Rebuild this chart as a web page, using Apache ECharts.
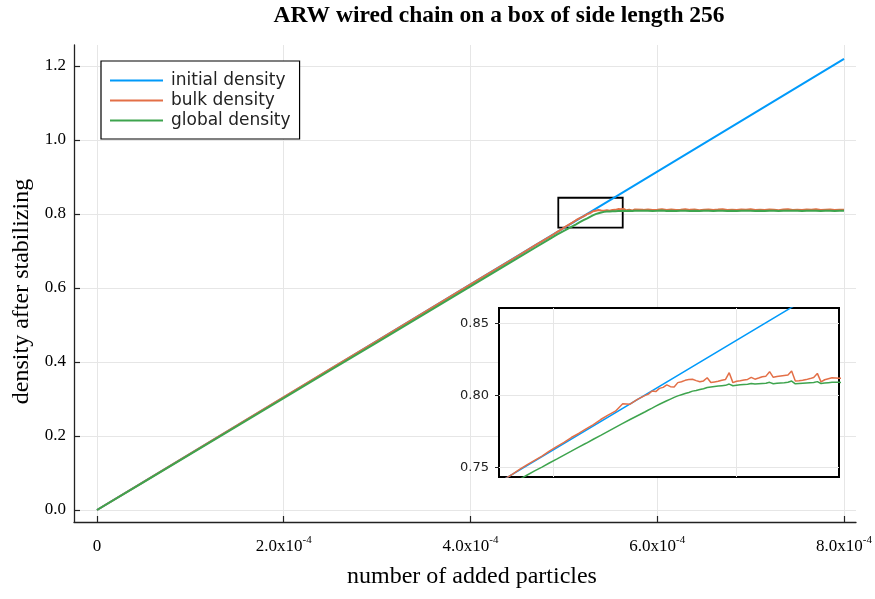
<!DOCTYPE html>
<html><head><meta charset="utf-8">
<script src="https://cdn.jsdelivr.net/npm/echarts@6/dist/echarts.min.js"></script>
<style>html,body{margin:0;padding:0;background:#fff}#c{width:875px;height:599px}</style>
</head><body><div id="c"></div>
<script>
const titleText = 'ARW wired chain on a box of side length 256';
const xAxisName = 'number of added particles';
const yAxisName = 'density after stabilizing';
const seriesNames = ['initial density', 'bulk density', 'global density'];

const initX = [0, 2e-4, 4e-4, 6e-4, 8e-4];
const initY = [0, 0.3048, 0.6096, 0.9144, 1.2192];

const addedX = [
  0, 0.5e-4, 1.0e-4, 1.5e-4, 2.0e-4, 2.5e-4, 3.0e-4, 3.5e-4, 4.0e-4, 4.5e-4, 4.7e-4,
  4.85e-4, 4.87e-4, 4.89e-4, 4.91e-4, 4.93e-4, 4.95e-4, 4.97e-4, 4.99e-4, 5.01e-4, 5.03e-4,
  5.05e-4, 5.07e-4, 5.09e-4, 5.11e-4, 5.13e-4, 5.15e-4, 5.17e-4, 5.19e-4, 5.21e-4, 5.23e-4, 5.25e-4,
  5.26e-4, 5.27e-4, 5.28e-4, 5.29e-4, 5.30e-4, 5.31e-4, 5.32e-4, 5.33e-4, 5.34e-4, 5.35e-4,
  5.36e-4, 5.37e-4, 5.38e-4, 5.39e-4, 5.40e-4, 5.41e-4, 5.42e-4, 5.43e-4, 5.44e-4, 5.45e-4,
  5.46e-4, 5.47e-4, 5.48e-4, 5.49e-4, 5.50e-4, 5.51e-4, 5.52e-4, 5.53e-4, 5.54e-4, 5.55e-4,
  5.56e-4, 5.57e-4, 5.58e-4, 5.59e-4, 5.60e-4, 5.61e-4, 5.62e-4, 5.63e-4, 5.64e-4, 5.65e-4,
  5.66e-4, 5.67e-4, 5.68e-4, 5.69e-4, 5.70e-4, 5.71e-4, 5.72e-4, 5.73e-4, 5.74e-4, 5.75e-4,
  5.76e-4, 5.77e-4, 5.78e-4,
  5.85e-4, 5.90e-4, 5.95e-4, 6.00e-4, 6.05e-4, 6.10e-4, 6.15e-4, 6.20e-4, 6.25e-4, 6.30e-4,
  6.35e-4, 6.40e-4, 6.45e-4, 6.50e-4, 6.55e-4, 6.60e-4, 6.65e-4, 6.70e-4, 6.75e-4, 6.80e-4,
  6.85e-4, 6.90e-4, 6.95e-4, 7.00e-4, 7.05e-4, 7.10e-4, 7.15e-4, 7.20e-4, 7.25e-4, 7.30e-4,
  7.35e-4, 7.40e-4, 7.45e-4, 7.50e-4, 7.55e-4, 7.60e-4, 7.65e-4, 7.70e-4, 7.75e-4, 7.80e-4,
  7.85e-4, 7.90e-4, 7.95e-4, 8.00e-4
];

const bulkY = [
  0, 0.0763, 0.1525, 0.2287, 0.3050, 0.3812, 0.4573, 0.5335, 0.6097, 0.6859, 0.7164,
  0.7388, 0.7421, 0.7453, 0.7487, 0.7519, 0.7549, 0.7578, 0.7612, 0.7644, 0.7673,
  0.7707, 0.7735, 0.7767, 0.7797, 0.7832, 0.7863, 0.7890, 0.7941, 0.7938, 0.7972, 0.7998,
  0.8008, 0.8030, 0.8026, 0.8048, 0.8055, 0.8072, 0.8060, 0.8058, 0.8088, 0.8094,
  0.8104, 0.8109, 0.8111, 0.8102, 0.8094, 0.8100, 0.8122, 0.8089, 0.8093, 0.8097,
  0.8105, 0.8110, 0.8157, 0.8088, 0.8098, 0.8101, 0.8106, 0.8110, 0.8124, 0.8112,
  0.8120, 0.8129, 0.8133, 0.8164, 0.8125, 0.8130, 0.8134, 0.8138, 0.8141, 0.8169,
  0.8099, 0.8101, 0.8104, 0.8109, 0.8116, 0.8124, 0.8152, 0.8093, 0.8108, 0.8115,
  0.8122, 0.8120, 0.8118,
  0.8112, 0.8125, 0.8108, 0.8118, 0.8131, 0.8110, 0.8121, 0.8106, 0.8116, 0.8128,
  0.8112, 0.8119, 0.8104, 0.8117, 0.8124, 0.8109, 0.8120, 0.8132, 0.8111, 0.8115,
  0.8107, 0.8122, 0.8113, 0.8126, 0.8108, 0.8118, 0.8110, 0.8123, 0.8115, 0.8105,
  0.8119, 0.8129, 0.8111, 0.8117, 0.8108, 0.8121, 0.8113, 0.8127, 0.8110, 0.8118,
  0.8124, 0.8109, 0.8116, 0.8112
];

const globalY = [
  0, 0.0756, 0.1511, 0.2267, 0.3022, 0.3778, 0.4533, 0.5289, 0.6044, 0.6800, 0.7102,
  0.7330, 0.7359, 0.7389, 0.7418, 0.7447, 0.7475, 0.7502, 0.7530, 0.7557, 0.7585,
  0.7612, 0.7640, 0.7667, 0.7695, 0.7722, 0.7750, 0.7778, 0.7805, 0.7832, 0.7858, 0.7884,
  0.7898, 0.7911, 0.7925, 0.7938, 0.7950, 0.7962, 0.7974, 0.7986, 0.7996, 0.8004,
  0.8012, 0.8020, 0.8029, 0.8034, 0.8040, 0.8046, 0.8054, 0.8058, 0.8061, 0.8064,
  0.8067, 0.8069, 0.8078, 0.8066, 0.8070, 0.8073, 0.8075, 0.8077, 0.8082, 0.8078,
  0.8080, 0.8082, 0.8084, 0.8090, 0.8080, 0.8083, 0.8086, 0.8088, 0.8091, 0.8099,
  0.8080, 0.8082, 0.8084, 0.8086, 0.8088, 0.8089, 0.8095, 0.8082, 0.8085, 0.8088,
  0.8090, 0.8091, 0.8090,
  0.8085, 0.8089, 0.8083, 0.8087, 0.8092, 0.8084, 0.8088, 0.8081, 0.8086, 0.8090,
  0.8084, 0.8087, 0.8082, 0.8086, 0.8089, 0.8083, 0.8087, 0.8091, 0.8084, 0.8086,
  0.8082, 0.8088, 0.8085, 0.8090, 0.8083, 0.8087, 0.8084, 0.8089, 0.8086, 0.8082,
  0.8087, 0.8091, 0.8085, 0.8087, 0.8083, 0.8088, 0.8085, 0.8090, 0.8084, 0.8087,
  0.8089, 0.8083, 0.8086, 0.8085
];

const xTicks = [0, 2e-4, 4e-4, 6e-4, 8e-4];
const yTicks = [0, 0.2, 0.4, 0.6, 0.8, 1.0, 1.2];
const insetXTicks = [5.0e-4, 5.5e-4];
const insetYTicks = [0.75, 0.80, 0.85];
const zoomBoxX = [4.94e-4, 5.63e-4];
const zoomBoxY = [0.763, 0.844];

const serif = 'Liberation Serif';
const sans = 'DejaVu Sans';
const colors = ['#009AFA', '#E36F47', '#3EA44E'];
const gridColor = '#e6e6e6';

const pairs = (xs, ys) => xs.map((x, i) => [x, ys[i]]);
const initData = pairs(initX, initY);
const bulkData = pairs(addedX, bulkY);
const globalData = pairs(addedX, globalY);

const chart = echarts.init(document.getElementById('c'), null, {renderer: 'canvas'});

function lineSeries(name, data, idx, color, width, z) {
  return {
    name: name, type: 'line', data: data, xAxisIndex: idx, yAxisIndex: idx,
    showSymbol: false, symbol: 'none', z: z, clip: true,
    lineStyle: {color: color, width: width}, itemStyle: {color: color},
    emphasis: {disabled: true}
  };
}

const option = {
  animation: false,
  backgroundColor: '#fff',
  color: colors,
  title: {
    text: titleText, left: 494, top: -1, textAlign: 'center',
    textStyle: {fontFamily: serif, fontWeight: 'bold', fontSize: 23.5, color: '#000'}
  },
  legend: {
    data: seriesNames, orient: 'vertical', left: 101, top: 61,
    padding: [11, 9, 10, 9], itemGap: 3, itemWidth: 53, itemHeight: 2, icon: 'rect',
    borderColor: '#000', borderWidth: 1.2, backgroundColor: '#fff',
    textStyle: {fontFamily: sans, fontSize: 17, color: '#222', padding: [0, 0, 0, 3], lineHeight: 17},
    selectedMode: false
  },
  grid: [
    {left: 74, right: 18, top: 45, bottom: 77, show: false},
    {left: 499, right: 36, top: 308, bottom: 122, show: true, backgroundColor: '#fff',
     borderColor: '#000', borderWidth: 2, z: 3}
  ],
  xAxis: [
    {
      type: 'value', gridIndex: 0, min: -0.246e-4, max: 8.128e-4,
      name: xAxisName, nameLocation: 'middle', nameGap: 43,
      nameTextStyle: {fontFamily: serif, fontSize: 24, color: '#000', padding: [0, 0, 0, 14]},
      axisLine: {show: true, onZero: false, lineStyle: {color: '#222', width: 1.3}},
      axisTick: {show: true, inside: true, length: 6, customValues: xTicks, lineStyle: {color: '#222', width: 1.2}},
      axisLabel: {
        customValues: xTicks, margin: 13,
        formatter: v => Math.abs(v) < 1e-12 ? '{n|0}' : '{n|' + (v * 1e4).toFixed(1) + 'x10}{s|-4}',
        rich: {
          n: {fontFamily: serif, fontSize: 17, color: '#000', lineHeight: 20, verticalAlign: 'bottom'},
          s: {fontFamily: serif, fontSize: 11, color: '#000', lineHeight: 20, verticalAlign: 'top'}
        }
      },
      splitLine: {show: true, lineStyle: {color: gridColor, width: 1}}
    },
    {
      type: 'value', gridIndex: 1, min: 4.853e-4, max: 5.779e-4,
      axisLine: {show: false}, axisTick: {show: false, customValues: insetXTicks},
      axisLabel: {show: false, customValues: insetXTicks},
      splitLine: {show: true, lineStyle: {color: gridColor, width: 1}}, z: 4
    }
  ],
  yAxis: [
    {
      type: 'value', gridIndex: 0, min: -0.0324, max: 1.2568,
      name: yAxisName, nameLocation: 'middle', nameGap: 40, nameRotate: 90,
      nameTextStyle: {fontFamily: serif, fontSize: 24, color: '#000', padding: [0, 16, 0, 0]},
      axisLine: {show: true, onZero: false, lineStyle: {color: '#222', width: 1.3}},
      axisTick: {show: true, inside: true, length: 6, customValues: yTicks, lineStyle: {color: '#222', width: 1.2}},
      axisLabel: {customValues: yTicks, margin: 8, fontFamily: serif, fontSize: 17, color: '#000',
        formatter: v => v.toFixed(1)},
      splitLine: {show: true, lineStyle: {color: gridColor, width: 1}}
    },
    {
      type: 'value', gridIndex: 1, min: 0.7433, max: 0.8606,
      axisLine: {show: false},
      axisTick: {show: true, inside: false, length: 4, customValues: insetYTicks, lineStyle: {color: '#222'}},
      axisLabel: {customValues: insetYTicks, margin: 10, fontFamily: sans, fontSize: 13, color: '#222',
        formatter: v => v.toFixed(2)},
      splitLine: {show: true, lineStyle: {color: gridColor, width: 1}}, z: 4
    }
  ],
  series: [
    lineSeries(seriesNames[0], initData, 0, colors[0], 2, 2),
    lineSeries(seriesNames[1], bulkData, 0, colors[1], 2, 3),
    lineSeries(seriesNames[2], globalData, 0, colors[2], 2, 4),
    {
      name: 'zoom box', type: 'line', data: [], xAxisIndex: 0, yAxisIndex: 0, z: 6,
      markArea: {
        silent: true,
        itemStyle: {color: 'rgba(0,0,0,0)', borderColor: '#000', borderWidth: 1.8},
        data: [[{coord: [zoomBoxX[0], zoomBoxY[0]]}, {coord: [zoomBoxX[1], zoomBoxY[1]]}]]
      }
    },
    lineSeries(seriesNames[0], initData, 1, colors[0], 1.5, 5),
    lineSeries(seriesNames[1], bulkData, 1, colors[1], 1.5, 6),
    lineSeries(seriesNames[2], globalData, 1, colors[2], 1.5, 7)
  ]
};
chart.setOption(option);
</script>
</body></html>
